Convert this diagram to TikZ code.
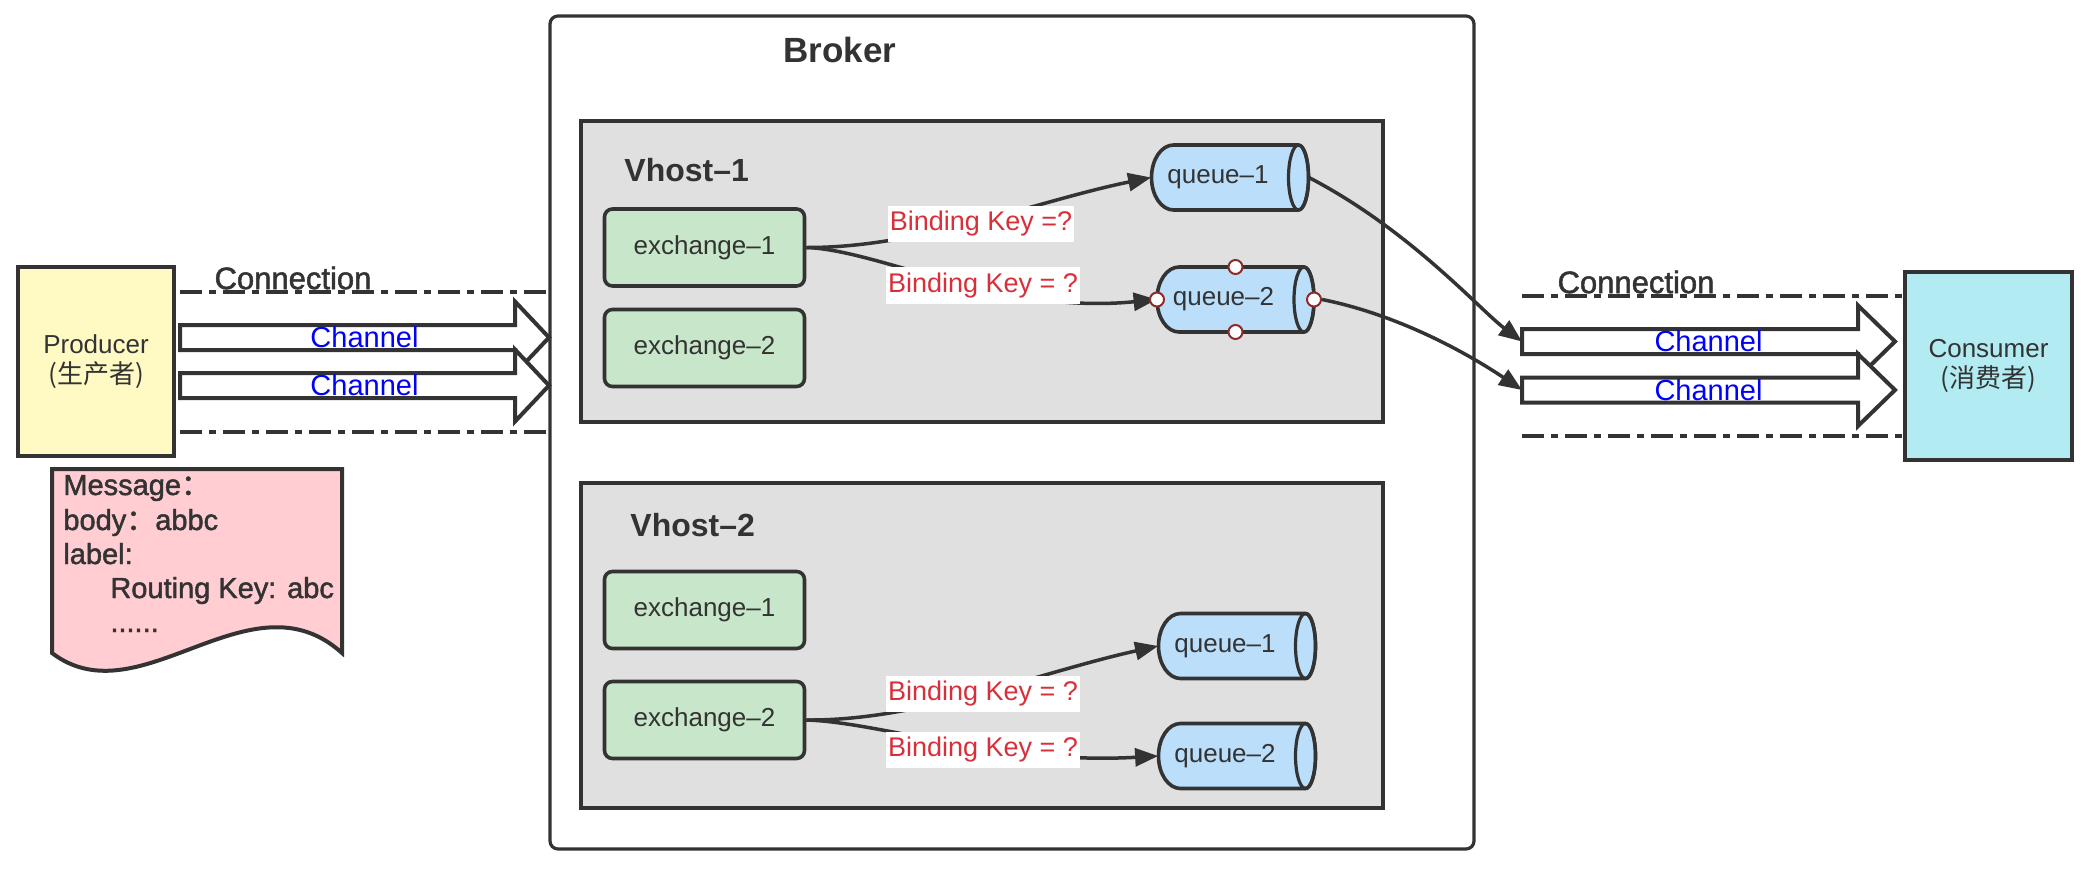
\documentclass[tikz,border=0pt]{standalone}
\usepackage{fontspec}
\setmainfont{Liberation Sans}
\newfontfamily\cjk{Noto Sans CJK SC}
\newfontfamily\medfont[FakeBold=1.6]{Liberation Sans}
\newfontfamily\cjkmed[FakeBold=1.6]{Noto Sans CJK SC}
\usetikzlibrary{arrows.meta}
\definecolor{ink}{HTML}{333333}
\definecolor{prodfill}{HTML}{FFF9C4}
\definecolor{consfill}{HTML}{B2EBF2}
\definecolor{msgfill}{HTML}{FFCDD2}
\definecolor{vhfill}{HTML}{E0E0E0}
\definecolor{exfill}{HTML}{C8E6C9}
\definecolor{qfill}{HTML}{BBDEFB}
\definecolor{keyred}{HTML}{D8303A}
\definecolor{chblue}{HTML}{0000FF}
\definecolor{mkred}{HTML}{8E2C2C}
\tikzset{
  x=0.5pt, y=-0.5pt,
  brokerbox/.style={draw=ink, line width=1.6pt, fill=white, rounded corners=4pt, inner sep=0pt},
  vhostbox/.style={draw=ink, line width=1.8pt, fill=vhfill, inner sep=0pt},
  exbox/.style={draw=ink, line width=1.8pt, fill=exfill, rounded corners=4pt, minimum width=100pt, minimum height=38.5pt, inner sep=0pt, text=ink, font=\fontsize{13}{15}\selectfont},
  qshape/.style={draw=ink, line width=1.8pt, fill=qfill},
  qline/.style={draw=ink, line width=1.6pt},
  qnode/.style={minimum width=78.5pt, minimum height=32.5pt, inner sep=0pt, text=ink, font=\fontsize{13}{15}\selectfont},
  actor/.style={draw=ink, line width=2pt, inner sep=0pt, align=center, text=ink, font=\fontsize{13}{15}\selectfont},
  title/.style={text=ink, inner sep=0pt, font=\bfseries\fontsize{17.5}{20}\selectfont},
  vtitle/.style={text=ink, inner sep=0pt, anchor=west, font=\bfseries\fontsize{16}{19}\selectfont},
  keylbl/.style={fill=white, text=keyred, inner xsep=1pt, inner ysep=2.8pt, font=\fontsize{13.5}{16}\selectfont},
  link/.style={draw=ink, line width=1.75pt, -{Triangle[length=11.5pt,width=9pt]}},
  marker/.style={circle, draw=mkred, fill=white, line width=1pt, minimum size=7pt, inner sep=0pt},
  conn/.style={draw=ink, line width=2pt, dash pattern=on 11pt off 3.5pt on 3.5pt off 3.5pt},
  connlbl/.style={text=ink, inner sep=0pt, font=\medfont\fontsize{15.5}{18}\selectfont},
  chan/.style={draw=ink, line width=2pt, fill=white, line join=miter},
  chanlbl/.style={text=chblue, inner sep=0pt, font=\fontsize{14.5}{17}\selectfont},
  msgshape/.style={draw=ink, line width=2pt, fill=msgfill},
  msgline/.style={text=ink, inner sep=0pt, anchor=base west, font=\medfont\fontsize{14.5}{17}\selectfont},
}
\newcommand\mkqueue[4]{%
  \begin{scope}[shift={(#2,#3)}]
    \filldraw[qshape] (-56.5,-32.5) -- (68.5,-32.5) .. controls (74.02,-32.5) and (78.5,-17.95) .. (78.5,0) .. controls (78.5,17.95) and (74.02,32.5) .. (68.5,32.5) -- (-56.5,32.5) .. controls (-68.65,32.5) and (-78.5,17.95) .. (-78.5,0) .. controls (-78.5,-17.95) and (-68.65,-32.5) .. (-56.5,-32.5) -- cycle;
    \draw[qline] (68.5,0) ellipse [x radius=5pt, y radius=16.25pt];
  \end{scope}
  \node[qnode] (#1) at (#2,#3) {#4\kern12pt};}
\newcommand\chanarrow[4]{%
  \filldraw[chan] (#1,#4-12.5) -- (#2,#4-12.5) -- (#2,#4-36) -- (#3,#4) -- (#2,#4+36) -- (#2,#4+12.5) -- (#1,#4+12.5) -- cycle;}
\begin{document}
\begin{tikzpicture}
\useasboundingbox (0,0) rectangle (2082,868);
% Broker
\node[brokerbox, minimum width=462pt, minimum height=416.5pt] (broker) at (1012,432.5) {};
\node[title] (brokerlbl) at (840,50) {Broker};
% Vhosts
\node[vhostbox, minimum width=401pt, minimum height=150.5pt] (vh1) at (982,271.5) {};
\node[vhostbox, minimum width=401pt, minimum height=162.5pt] (vh2) at (982,645.5) {};
\node[vtitle] (vh1lbl) at (624,170.5) {Vhost–1};
\node[vtitle] (vh2lbl) at (630,525.5) {Vhost–2};
% exchanges
\node[exbox] (v1e1) at (704.5,247.5) {exchange–1};
\node[exbox] (v1e2) at (704.5,348) {exchange–2};
\node[exbox] (v2e1) at (704.5,610) {exchange–1};
\node[exbox] (v2e2) at (704.5,720) {exchange–2};
% queues
\mkqueue{v1q1}{1230}{177.5}{queue–1}
\mkqueue{v1q2}{1235.5}{299.5}{queue–2}
\mkqueue{v2q1}{1237}{646}{queue–1}
\mkqueue{v2q2}{1237}{756}{queue–2}
% bindings
\draw[link] (v1e1.east) .. controls (920,248) and (1040,200) .. (v1q1.west);
\draw[link] (v1e1.east) .. controls (880,250) and (1000,315) .. (v1q2.west);
\draw[link] (v2e2.east) .. controls (920,721) and (1040,672) .. (v2q1.west);
\draw[link] (v2e2.east) .. controls (880,722) and (1000,765) .. (v2q2.west);
\node[keylbl] (bk1) at (981,224) {Binding Key =?};
\node[keylbl] (bk2) at (983,285.5) {Binding Key = ?};
\node[keylbl] (bk3) at (983,694) {Binding Key = ?};
\node[keylbl] (bk4) at (983,750) {Binding Key = ?};
% markers on queue-2
\node[marker] (mkL) at (1157,299.5) {};
\node[marker] (mkR) at (1314,299.5) {};
\node[marker] (mkT) at (1235.5,267) {};
\node[marker] (mkB) at (1235.5,332) {};
% Producer
\node[actor, fill=prodfill, minimum width=78pt, minimum height=94.5pt] (prod) at (96,361.5) {Producer\\{\cjk (生产者)}};
% Message
\filldraw[msgshape] (52,469) -- (342,469) -- (342,653) .. controls (250,570) and (140,720) .. (52,653) -- cycle;
\node[msgline] (msg1) at (63,495) {Message{\cjkmed ：}};
\node[msgline] (msg2) at (63,530) {body{\cjkmed ：}abbc};
\node[msgline] (msg3) at (63,564) {label:};
\node[msgline] (msg4) at (110,598) {Routing Key: abc};
\node[msgline] (msg5) at (110,632) {......};
% left connection
\coordinate (cLt1) at (180,292);
\coordinate (cLt2) at (550,292);
\coordinate (cLb1) at (180,432);
\coordinate (cLb2) at (550,432);
\draw[conn] (cLt1) -- (cLt2);
\draw[conn] (cLb1) -- (cLb2);
\node[connlbl] (connL) at (293,278) {Connection};
\chanarrow{180}{515}{549}{337.5}
\node[chanlbl] (chL1) at (364.5,337.5) {Channel};
\chanarrow{180}{515}{549}{385.5}
\node[chanlbl] (chL2) at (364.5,385.5) {Channel};
% Consumer
\node[actor, fill=consfill, minimum width=83.5pt, minimum height=94pt] (cons) at (1988.5,366) {Consumer\\{\cjk (消费者)}};
% right connection
\coordinate (cRt1) at (1522,296);
\coordinate (cRt2) at (1903,296);
\coordinate (cRb1) at (1522,436);
\coordinate (cRb2) at (1903,436);
\draw[conn] (cRt1) -- (cRt2);
\draw[conn] (cRb1) -- (cRb2);
\node[connlbl] (connR) at (1636,282) {Connection};
\chanarrow{1522}{1858}{1895}{341.5}
\node[chanlbl] (chR1) at (1708.5,341.5) {Channel};
\chanarrow{1522}{1858}{1895}{390}
\node[chanlbl] (chR2) at (1708.5,390) {Channel};
\coordinate (chR1tail) at (1522,341.5);
\coordinate (chR2tail) at (1522,390);
% queue to consumer channels
\draw[link] (v1q1.east) .. controls (1410,230) and (1480,310) .. (chR1tail);
\draw[link] (mkR.east) .. controls (1400,315) and (1470,355) .. (chR2tail);
\end{tikzpicture}
\end{document}
